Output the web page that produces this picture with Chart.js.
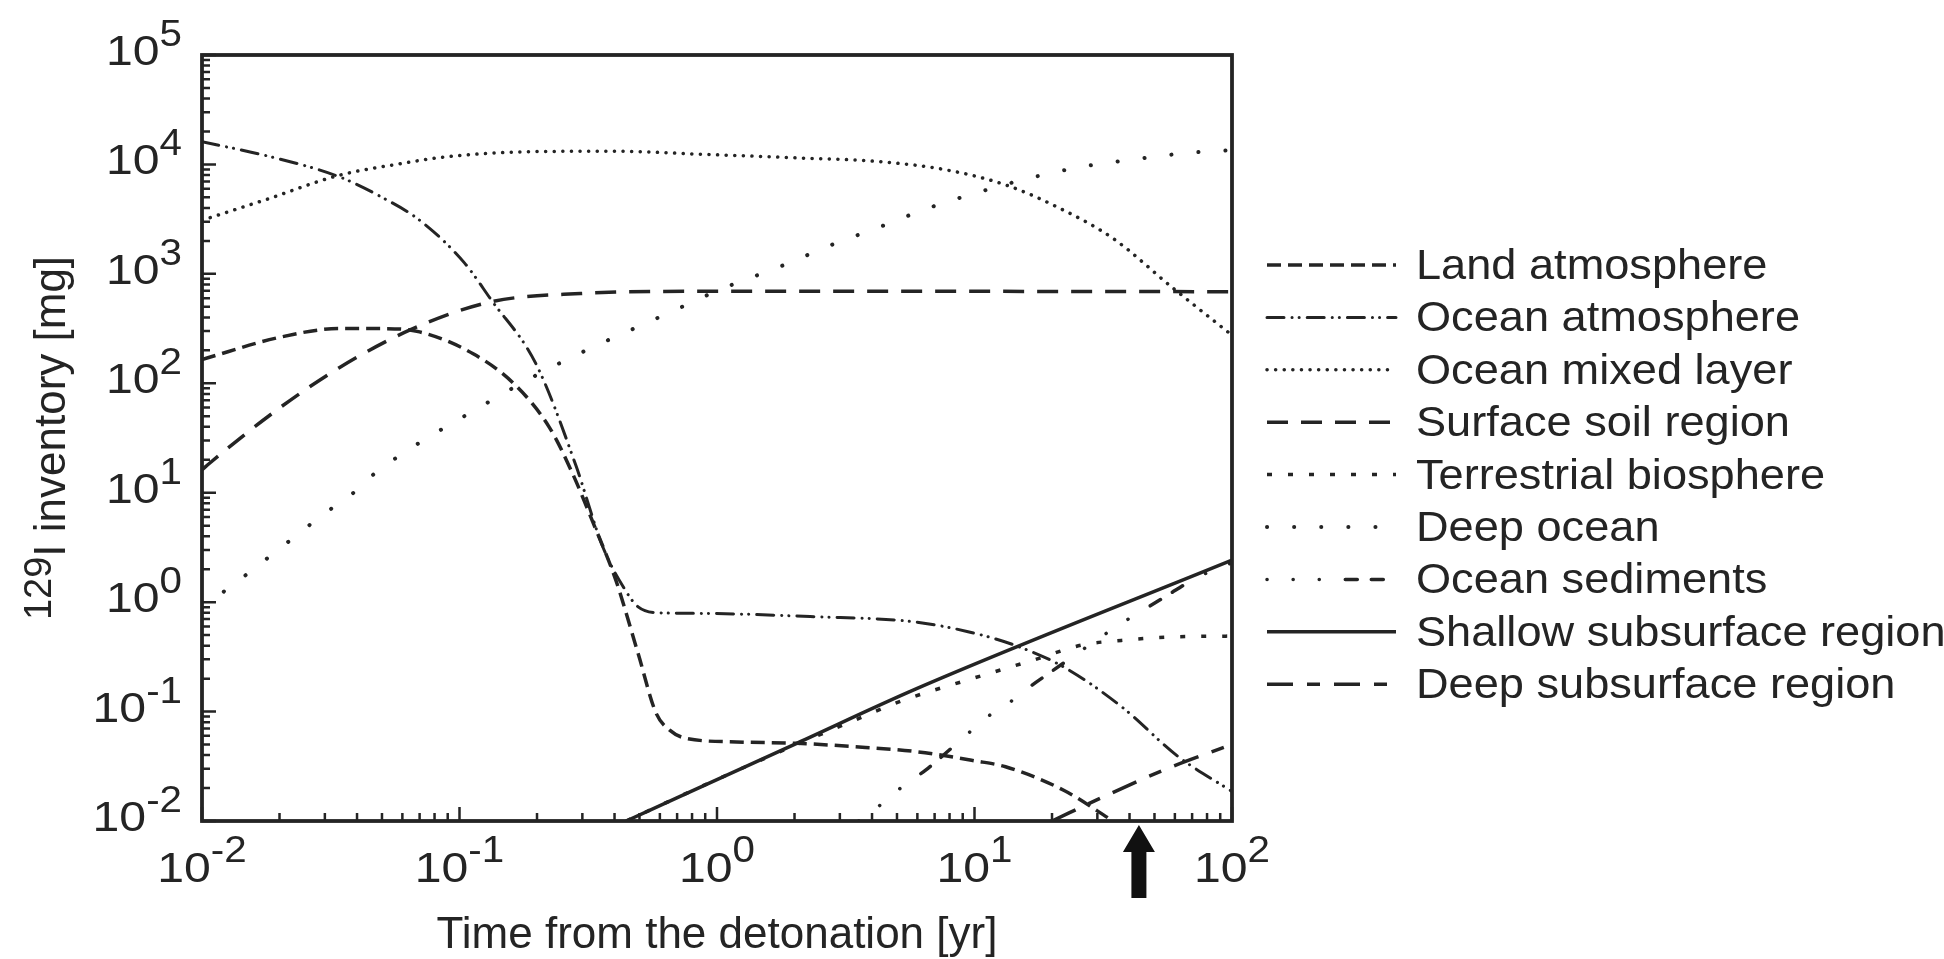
<!DOCTYPE html>
<html lang="en">
<head>
    <meta charset="UTF-8">
    <title>129I inventory</title>
    <script src="https://cdn.jsdelivr.net/npm/chart.js"></script>
    <style>
        html, body { margin: 0; padding: 0; background: #fff; overflow: hidden; }
        canvas { display: block; }
    </style>
</head>
<body>
    <canvas id="inventoryChart" width="1944" height="959"></canvas>

    <script>
        // time [yr] and inventory [mg], one pair of arrays per compartment
        const landAtmT = [0.01, 0.02, 0.034, 0.049, 0.07, 0.113, 0.162, 0.223, 0.272, 0.331, 0.405, 0.494, 0.579, 0.655, 0.762, 1.19, 2.04, 3.37, 5.96, 10, 13.2, 22.2, 34.5];
        const landAtmV = [165, 263, 316, 316, 295, 186, 100, 39.8, 15.8, 5.25, 1.58, 0.339, 0.0977, 0.0676, 0.0568, 0.0528, 0.0513, 0.0479, 0.043, 0.0355, 0.0313, 0.0191, 0.01];

        const oceanAtmT = [0.01, 0.0178, 0.034, 0.05, 0.07, 0.1045, 0.133, 0.198, 0.283, 0.36, 0.44, 0.494, 0.605, 0.86, 2.4, 5.82, 9.44, 14.2, 22.1, 37.2, 61.7, 100];
        const oceanAtmV = [16100, 12000, 7730, 5010, 3090, 1260, 575, 151, 17.8, 3.21, 1.29, 0.906, 0.798, 0.789, 0.735, 0.661, 0.537, 0.407, 0.257, 0.111, 0.0389, 0.0186];

        const mixedLayerT = [0.01, 0.0178, 0.034, 0.0597, 0.089, 0.198, 0.398, 0.86, 2.0, 4.3, 7.8, 13.3, 21.4, 34.5, 59, 100];
        const mixedLayerV = [3090, 4790, 7940, 10200, 11750, 13100, 13200, 12400, 11500, 10600, 8900, 6460, 3980, 2110, 741, 275];

        const surfaceSoilT = [0.01, 0.0107, 0.0195, 0.034, 0.0646, 0.133, 0.295, 0.86, 10, 100];
        const surfaceSoilV = [16.2, 18.6, 56.9, 138, 309, 556, 661, 692, 692, 687];

        const biosphereT = [0.444, 1, 2.0, 3.37, 5.25, 9.44, 16.9, 26.3, 37.2, 56.2, 100];
        const biosphereV = [0.01, 0.024, 0.049, 0.0822, 0.126, 0.195, 0.295, 0.407, 0.447, 0.479, 0.49];

        const deepOceanT = [0.01, 0.0121, 0.0148, 0.0179, 0.0216, 0.026, 0.0316, 0.0385, 0.046, 0.127, 0.237, 0.71, 1, 1.78, 2.8, 4.3, 6.6, 10.5, 16.7, 26.3, 42.7, 68.7, 100];
        const deepOceanV = [0.891, 1.24, 1.77, 2.51, 3.55, 5.01, 7.08, 9.86, 14.5, 65.5, 147, 484, 700, 1180, 1850, 2690, 3980, 5620, 7590, 9550, 11200, 12800, 13500];

        const sedimentsT = [3.55, 4.44, 5.35, 6.46, 9.44, 11.2, 13.8, 16.6, 20, 36.3, 44.7, 55, 72.4, 100];
        const sedimentsV = [0.01, 0.0148, 0.0214, 0.0292, 0.0631, 0.0891, 0.123, 0.172, 0.234, 0.617, 0.832, 1.12, 1.66, 2.29];

        const shallowSubT = [0.444, 2.04, 5.96, 100];
        const shallowSubV = [0.01, 0.0513, 0.162, 2.42];

        const deepSubT = [20, 31.6, 56.2, 100];
        const deepSubV = [0.01, 0.0166, 0.0302, 0.0501];

        const xExponents = [-2, -1, 0, 1, 2];
        const yExponents = [-2, -1, 0, 1, 2, 3, 4, 5];
        const arrowYear = 43.5;

        const INK = '#242424';
        const FONT = '"Liberation Sans", Arial, Helvetica, sans-serif';

        function pairs(t, v) {
            return t.map((x, i) => ({ x: x, y: v[i] }));
        }

        function series(label, t, v, dash, width, cap) {
            return {
                label: label,
                data: pairs(t, v),
                borderColor: INK,
                borderWidth: width,
                borderDash: dash,
                borderCapStyle: cap,
                pointRadius: 0,
                fill: false,
                cubicInterpolationMode: 'monotone'
            };
        }

        const datasets = [
            series('Land atmosphere', landAtmT, landAtmV, [14, 7], 3.5, 'butt'),
            series('Ocean atmosphere', oceanAtmT, oceanAtmV, [17, 8, 0.1, 7, 0.1, 8], 3, 'round'),
            series('Ocean mixed layer', mixedLayerT, mixedLayerV, [0.1, 8.5], 3.5, 'round'),
            series('Surface soil region', surfaceSoilT, surfaceSoilV, [21, 13], 3.5, 'butt'),
            series('Terrestrial biosphere', biosphereT, biosphereV, [5, 16], 3.5, 'butt'),
            series('Deep ocean', deepOceanT, deepOceanV, [0.1, 27], 4, 'round'),
            series('Ocean sediments', sedimentsT, sedimentsV, [0.1, 26, 0.1, 26, 0.1, 26, 12, 14, 12, 26], 3.5, 'round'),
            series('Shallow subsurface region', shallowSubT, shallowSubV, [], 3.5, 'butt'),
            series('Deep subsurface region', deepSubT, deepSubV, [26, 14, 13, 14], 3.5, 'butt')
        ];

        // the original lettering is a little wider than Liberation Sans
        function wideText(ctx, text, x, y, sx) {
            ctx.save();
            ctx.translate(x, y);
            ctx.scale(sx, 1);
            ctx.fillText(text, 0, 0);
            ctx.restore();
        }

        // frame, inward ticks, superscript tick labels, titles, arrow and legend
        const decor = {
            id: 'decor',
            afterDatasetsDraw(chart) {
                const ctx = chart.ctx;
                const a = chart.chartArea;
                const xs = chart.scales.x;
                const ys = chart.scales.y;
                ctx.save();
                ctx.setLineDash([]);
                ctx.strokeStyle = INK;
                ctx.fillStyle = INK;

                // ticks
                ctx.lineWidth = 2.5;
                ctx.beginPath();
                for (let k = -2; k <= 5; k++) {
                    for (let m = 1; m <= 9; m++) {
                        if (k === 5 && m > 1) break;
                        const py = ys.getPixelForValue(m * Math.pow(10, k));
                        ctx.moveTo(a.left, py);
                        ctx.lineTo(a.left + (m === 1 ? 14 : 8), py);
                    }
                }
                for (let k = -2; k <= 2; k++) {
                    for (let m = 1; m <= 9; m++) {
                        if (k === 2 && m > 1) break;
                        const px = xs.getPixelForValue(m * Math.pow(10, k));
                        ctx.moveTo(px, a.bottom);
                        ctx.lineTo(px, a.bottom - (m === 1 ? 14 : 8));
                    }
                }
                ctx.stroke();

                // frame
                ctx.lineWidth = 3.8;
                ctx.strokeRect(a.left, a.top, a.right - a.left, a.bottom - a.top);

                // tick labels
                const sx = 1.12;
                const baseFont = '43px ' + FONT;
                const expFont = '36px ' + FONT;
                ctx.textBaseline = 'alphabetic';
                ctx.textAlign = 'left';
                yExponents.forEach(k => {
                    const py = ys.getPixelForValue(Math.pow(10, k));
                    ctx.font = expFont;
                    const ew = ctx.measureText(String(k)).width * sx;
                    ctx.font = baseFont;
                    const bw = ctx.measureText('10').width * sx;
                    const right = a.left - 20;
                    wideText(ctx, '10', right - ew - bw, py + 10, sx);
                    ctx.font = expFont;
                    wideText(ctx, String(k), right - ew, py - 9, sx);
                });
                xExponents.forEach(k => {
                    const px = xs.getPixelForValue(Math.pow(10, k));
                    ctx.font = expFont;
                    const ew = ctx.measureText(String(k)).width * sx;
                    ctx.font = baseFont;
                    const bw = ctx.measureText('10').width * sx;
                    const left = px - (bw + ew) / 2;
                    wideText(ctx, '10', left, a.bottom + 61, sx);
                    ctx.font = expFont;
                    wideText(ctx, String(k), left + bw, a.bottom + 41, sx);
                });

                // x title
                ctx.font = '44px ' + FONT;
                ctx.textAlign = 'center';
                ctx.fillText('Time from the detonation [yr]', (a.left + a.right) / 2, a.bottom + 127);

                // y title, rotated, with superscript mass number
                ctx.save();
                ctx.translate(65, (a.top + a.bottom) / 2);
                ctx.rotate(-Math.PI / 2);
                ctx.textAlign = 'left';
                ctx.font = '38px ' + FONT;
                const sw = ctx.measureText('129').width;
                ctx.font = '44px ' + FONT;
                const mw = ctx.measureText('I inventory [mg]').width;
                const start = -(sw + mw) / 2;
                ctx.font = '38px ' + FONT;
                ctx.fillText('129', start, -14);
                ctx.font = '44px ' + FONT;
                ctx.fillText('I inventory [mg]', start + sw, 0);
                ctx.restore();

                // arrow under the time axis
                const ax = xs.getPixelForValue(arrowYear);
                ctx.fillStyle = '#111';
                ctx.beginPath();
                ctx.moveTo(ax, a.bottom + 4);
                ctx.lineTo(ax + 16, a.bottom + 31);
                ctx.lineTo(ax + 7.5, a.bottom + 31);
                ctx.lineTo(ax + 7.5, a.bottom + 77);
                ctx.lineTo(ax - 7.5, a.bottom + 77);
                ctx.lineTo(ax - 7.5, a.bottom + 31);
                ctx.lineTo(ax - 16, a.bottom + 31);
                ctx.closePath();
                ctx.fill();

                // legend
                ctx.fillStyle = INK;
                ctx.font = '43px ' + FONT;
                ctx.textAlign = 'left';
                chart.data.datasets.forEach((ds, i) => {
                    const ly = 265 + i * 52.4;
                    ctx.lineWidth = ds.borderWidth;
                    ctx.lineCap = ds.borderCapStyle;
                    ctx.setLineDash(ds.borderDash);
                    ctx.beginPath();
                    ctx.moveTo(1267, ly);
                    ctx.lineTo(1396, ly);
                    ctx.stroke();
                    ctx.setLineDash([]);
                    wideText(ctx, ds.label, 1416, ly + 14, 1.05);
                });

                ctx.restore();
            }
        };

        new Chart(document.getElementById('inventoryChart').getContext('2d'), {
            type: 'line',
            data: { datasets: datasets },
            options: {
                responsive: false,
                animation: false,
                devicePixelRatio: 1,
                layout: { padding: { left: 202, top: 55, right: 712, bottom: 138 } },
                plugins: { legend: { display: false }, tooltip: { enabled: false } },
                scales: {
                    x: { type: 'logarithmic', min: 0.01, max: 100, display: false },
                    y: { type: 'logarithmic', min: 0.01, max: 100000, display: false }
                }
            },
            plugins: [decor]
        });
    </script>
</body>
</html>
